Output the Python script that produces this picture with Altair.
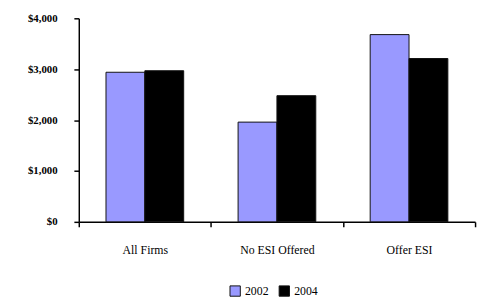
import altair as alt
import pandas as pd

categories = ["All Firms", "No ESI Offered", "Offer ESI"]
years = ["2002", "2004"]
values_2002 = [2940, 1960, 3680]
values_2004 = [2970, 2480, 3210]
y_ticks = [0, 1000, 2000, 3000, 4000]

rows = []
for c, a, b in zip(categories, values_2002, values_2004):
    rows.append({"cat": c, "year": "2002", "value": a})
    rows.append({"cat": c, "year": "2004", "value": b})
df = pd.DataFrame(rows)

font = "Liberation Serif"

chart = alt.Chart(df).mark_bar(stroke="#111111", strokeWidth=1).encode(
    x=alt.X("cat:N", sort=categories, title=None,
            scale=alt.Scale(paddingInner=0, paddingOuter=0),
            axis=alt.Axis(labelAngle=0, tickBand="extent", domainColor="black",
                          tickColor="black", tickSize=5, labelPadding=18,
                          domainWidth=1.5, tickWidth=1.5,
                          labelFont=font, labelFontSize=12, labelColor="black",
                          labelFontWeight="normal")),
    xOffset=alt.XOffset("year:N", sort=years, scale=alt.Scale(paddingInner=0, paddingOuter=0.7)),
    y=alt.Y("value:Q", title=None,
            scale=alt.Scale(domain=[0, 4000], nice=False),
            axis=alt.Axis(values=y_ticks, format="$,.0f", grid=False,
                          domainColor="black", tickColor="black", tickSize=5,
                          domainWidth=1.5, tickWidth=1.5,
                          labelPadding=17, labelFont=font, labelFontSize=11,
                          labelFontWeight="bold", labelColor="black")),
    color=alt.Color("year:N", sort=years, title=None,
                    scale=alt.Scale(domain=years, range=["#9999ff", "#000000"]),
                    legend=alt.Legend(orient="none", legendX=153, legendY=271,
                                      direction="horizontal", symbolType="square",
                                      symbolSize=110, symbolStrokeColor="#111111",
                                      symbolStrokeWidth=1, labelFont=font,
                                      labelFontSize=12, labelColor="black",
                                      columnPadding=8, labelOffset=4, padding=0)),
).properties(
    width=403, height=207,
    autosize=alt.AutoSizeParams(type="none"),
    padding={"left": 72, "top": 8, "right": 4, "bottom": 78},
    background="white",
).configure_view(stroke=None)

chart.save("out.html", embed_options={"renderer": "svg", "actions": False})
